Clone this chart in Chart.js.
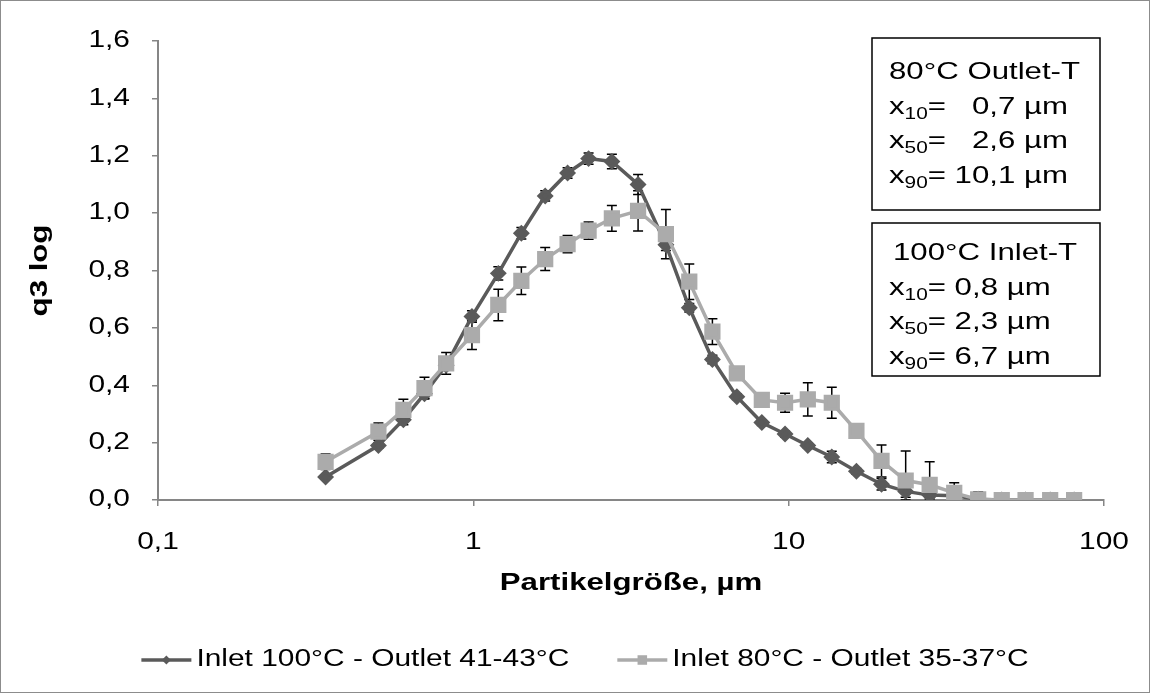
<!DOCTYPE html>
<html>
<head>
<meta charset="utf-8">
<script src="https://cdn.jsdelivr.net/npm/chart.js@4.4.1/dist/chart.umd.min.js"></script>
<style>
  html, body { margin: 0; padding: 0; background: #fff; }
  #wrap { position: relative; width: 1150px; height: 693px; box-sizing: border-box; border: 1px solid #8c8c8c; }
</style>
</head>
<body>
<div id="wrap"><canvas id="myChart"></canvas></div>
<script>
// particle size classes (µm) and q3 log values
const sizes = [0.34, 0.5, 0.6, 0.7, 0.82, 0.99, 1.2, 1.42, 1.69, 1.99, 2.32, 2.75, 3.33, 4.08, 4.84, 5.73, 6.85, 8.22, 9.74, 11.5, 13.7, 16.4, 19.7, 23.5, 28.0, 33.5, 39.9, 47.4, 56.4, 67.5, 80.4];
const q3Inlet100 = [0.08, 0.19, 0.28, 0.37, 0.47, 0.64, 0.79, 0.93, 1.06, 1.14, 1.19, 1.18, 1.10, 0.89, 0.67, 0.49, 0.36, 0.27, 0.23, 0.19, 0.15, 0.10, 0.055, 0.03, 0.017, 0.015, 0.003, 0, 0, 0, 0];
const errInlet100 = [0.005, 0.01, 0.018, 0.015, 0.01, 0.02, 0.023, 0.02, 0.018, 0.018, 0.02, 0.025, 0.035, 0.02, 0.015, 0.015, 0.01, 0.01, 0.01, 0.01, 0.02, 0.01, 0.02, 0.02, 0.01, 0.01, 0.005, 0, 0, 0, 0];
const q3Inlet80 = [0.133, 0.238, 0.314, 0.39, 0.476, 0.575, 0.68, 0.764, 0.84, 0.892, 0.939, 0.982, 1.008, 0.927, 0.761, 0.587, 0.441, 0.349, 0.339, 0.351, 0.339, 0.241, 0.136, 0.068, 0.053, 0.025, 0.002, 0, 0, 0, 0];
const errInlet80 = [0.027, 0.03, 0.037, 0.038, 0.038, 0.05, 0.055, 0.048, 0.04, 0.03, 0.03, 0.045, 0.07, 0.086, 0.062, 0.045, 0.015, 0.023, 0.033, 0.058, 0.054, 0.025, 0.056, 0.103, 0.08, 0.035, 0.027, 0, 0, 0, 0];

const seriesLabels = ["Inlet 100°C - Outlet 41-43°C", "Inlet 80°C - Outlet 35-37°C"];
const xTickValues = [0.1, 1, 10, 100];
const xTickLabels = ["0,1", "1", "10", "100"];

// text boxes: [x, subscript, rest]
const box1 = ["80°C Outlet-T", ["x", "10", "=   0,7 µm"], ["x", "50", "=   2,6 µm"], ["x", "90", "= 10,1 µm"]];
const box2 = ["100°C Inlet-T", ["x", "10", "= 0,8 µm"], ["x", "50", "= 2,3 µm"], ["x", "90", "= 6,7 µm"]];

const FONT = "'Liberation Sans', Arial, sans-serif";
const darkGrey = "#5a5a5a";
const lightGrey = "#ababab";
const axisGrey = "#868686";

// the original figure has its text drawn wider than normal Arial
const STRETCH = 1.3;
const origFillText = CanvasRenderingContext2D.prototype.fillText;
CanvasRenderingContext2D.prototype.fillText = function (text, x, y, maxWidth) {
  this.save();
  this.translate(x, y);
  this.scale(STRETCH, 1);
  if (maxWidth === undefined) origFillText.call(this, text, 0, 0);
  else origFillText.call(this, text, 0, 0, maxWidth / STRETCH);
  this.restore();
};

const errorBars = {
  id: "errorBars",
  beforeDatasetsDraw(chart) {
    const { ctx, chartArea, scales } = chart;
    ctx.save();
    ctx.beginPath();
    ctx.rect(chartArea.left, chartArea.top - 2, chartArea.width, chartArea.height + 2);
    ctx.clip();
    ctx.strokeStyle = "#000";
    ctx.lineWidth = 1.5;
    chart.data.datasets.forEach((ds) => {
      ds.data.forEach((p, i) => {
        const e = ds.errors[i];
        if (!e) return;
        const px = scales.x.getPixelForValue(p.x);
        const top = scales.y.getPixelForValue(p.y + e);
        const bot = scales.y.getPixelForValue(Math.max(p.y - e, 0));
        ctx.beginPath();
        ctx.moveTo(px, top);
        ctx.lineTo(px, bot);
        ctx.moveTo(px - 5, top);
        ctx.lineTo(px + 5, top);
        ctx.moveTo(px - 5, bot);
        ctx.lineTo(px + 5, bot);
        ctx.stroke();
      });
    });
    ctx.restore();
  },
};

function drawBox(ctx, left, top, w, h, lines, firstY, firstIndent) {
  ctx.save();
  ctx.fillStyle = "#fff";
  ctx.fillRect(left, top, w, h);
  ctx.strokeStyle = "#000";
  ctx.lineWidth = 1.5;
  ctx.strokeRect(left, top, w, h);
  ctx.fillStyle = "#000";
  ctx.textBaseline = "alphabetic";
  ctx.textAlign = "left";
  let y = top + firstY;
  lines.forEach((ln) => {
    let x = left + 17;
    ctx.font = "24px " + FONT;
    if (typeof ln === "string") {
      ctx.fillText(ln, x + firstIndent, y);
    } else {
      ctx.fillText(ln[0], x, y);
      x += ctx.measureText(ln[0]).width * STRETCH;
      ctx.font = "16px " + FONT;
      ctx.fillText(ln[1], x, y + 5);
      x += ctx.measureText(ln[1]).width * STRETCH;
      ctx.font = "24px " + FONT;
      ctx.fillText(ln[2], x, y);
    }
    y += 34.5;
  });
  ctx.restore();
}

const annotations = {
  id: "annotations",
  afterDraw(chart) {
    const { ctx, chartArea } = chart;
    const left = chartArea.right - 232;
    drawBox(ctx, left, chartArea.top - 3, 228, 172, box1, 41, 0);
    drawBox(ctx, left, chartArea.top + 182, 228, 153, box2, 37, 4);

    // legend at the bottom: line with marker, then label
    const H = Chart.helpers;
    const legY = 659;
    ctx.save();
    ctx.font = "23px " + FONT;
    ctx.textBaseline = "middle";
    ctx.textAlign = "left";
    const symW = 50;
    const gap = 48;
    const widths = seriesLabels.map((t) => symW + 5 + ctx.measureText(t).width * STRETCH);
    let x = chart.width / 2 + 10 - (widths[0] + widths[1] + gap) / 2;
    chart.data.datasets.forEach((ds, i) => {
      ctx.strokeStyle = ds.borderColor;
      ctx.lineWidth = 3.5;
      ctx.beginPath();
      ctx.moveTo(x, legY);
      ctx.lineTo(x + symW, legY);
      ctx.stroke();
      ctx.fillStyle = ds.pointBackgroundColor;
      ctx.strokeStyle = ds.pointBorderColor;
      H.drawPoint(ctx, { pointStyle: ds.pointStyle, radius: ds.pointRadius * 0.75, borderWidth: 0 }, x + symW / 2, legY);
      ctx.fillStyle = "#000";
      ctx.fillText(seriesLabels[i], x + symW + 5, legY);
      x += widths[i] + gap;
    });
    ctx.restore();
  },
};

const datasets = [
  {
    label: seriesLabels[0],
    data: sizes.map((s, i) => ({ x: s, y: q3Inlet100[i] })),
    errors: errInlet100,
    borderColor: darkGrey,
    backgroundColor: darkGrey,
    pointBackgroundColor: darkGrey,
    pointBorderColor: darkGrey,
    pointStyle: "rectRot",
    pointRadius: 6,
    borderWidth: 3.5,
    order: 2,
  },
  {
    label: seriesLabels[1],
    data: sizes.map((s, i) => ({ x: s, y: q3Inlet80[i] })),
    errors: errInlet80,
    borderColor: lightGrey,
    backgroundColor: lightGrey,
    pointBackgroundColor: lightGrey,
    pointBorderColor: lightGrey,
    pointStyle: "rect",
    pointRadius: 9,
    borderWidth: 3.5,
    order: 1,
  },
];

new Chart(document.getElementById("myChart"), {
  type: "line",
  data: { datasets },
  options: {
    responsive: true,
    maintainAspectRatio: false,
    animation: false,
    layout: { padding: { top: 40, right: 45, bottom: 94, left: 0 } },
    plugins: { legend: { display: false }, tooltip: { enabled: false } },
    scales: {
      x: {
        type: "logarithmic",
        min: 0.1,
        max: 100,
        afterBuildTicks: (s) => {
          s.ticks = xTickValues.map((v) => ({ value: v, major: true }));
        },
        afterFit: (s) => {
          s.height = 98;
        },
        ticks: {
          autoSkip: false,
          maxRotation: 0,
          padding: 23,
          color: "#000",
          font: { family: FONT, size: 23 },
          callback: (v, i) => xTickLabels[i],
        },
        grid: { drawOnChartArea: false, drawTicks: true, tickLength: 6, color: axisGrey, lineWidth: 1.5 },
        border: { display: true, color: axisGrey, width: 2 },
        title: {
          display: true,
          text: "Partikelgröße, µm",
          color: "#000",
          font: { family: FONT, size: 24, weight: "bold" },
          padding: { top: 0, bottom: 0 },
        },
      },
      y: {
        min: 0,
        max: 1.6,
        afterFit: (s) => {
          s.width = 157;
        },
        ticks: {
          stepSize: 0.2,
          padding: 22,
          color: "#000",
          font: { family: FONT, size: 23 },
          callback: (v) => v.toFixed(1).replace(".", ","),
        },
        grid: { drawOnChartArea: false, drawTicks: true, tickLength: 6, color: axisGrey, lineWidth: 1.5 },
        border: { display: true, color: axisGrey, width: 2 },
        title: {
          display: true,
          text: "q3 log",
          color: "#000",
          font: { family: FONT, size: 24, weight: "bold" },
          padding: { top: 25, bottom: 0 },
        },
      },
    },
  },
  plugins: [errorBars, annotations],
});
</script>
</body>
</html>
